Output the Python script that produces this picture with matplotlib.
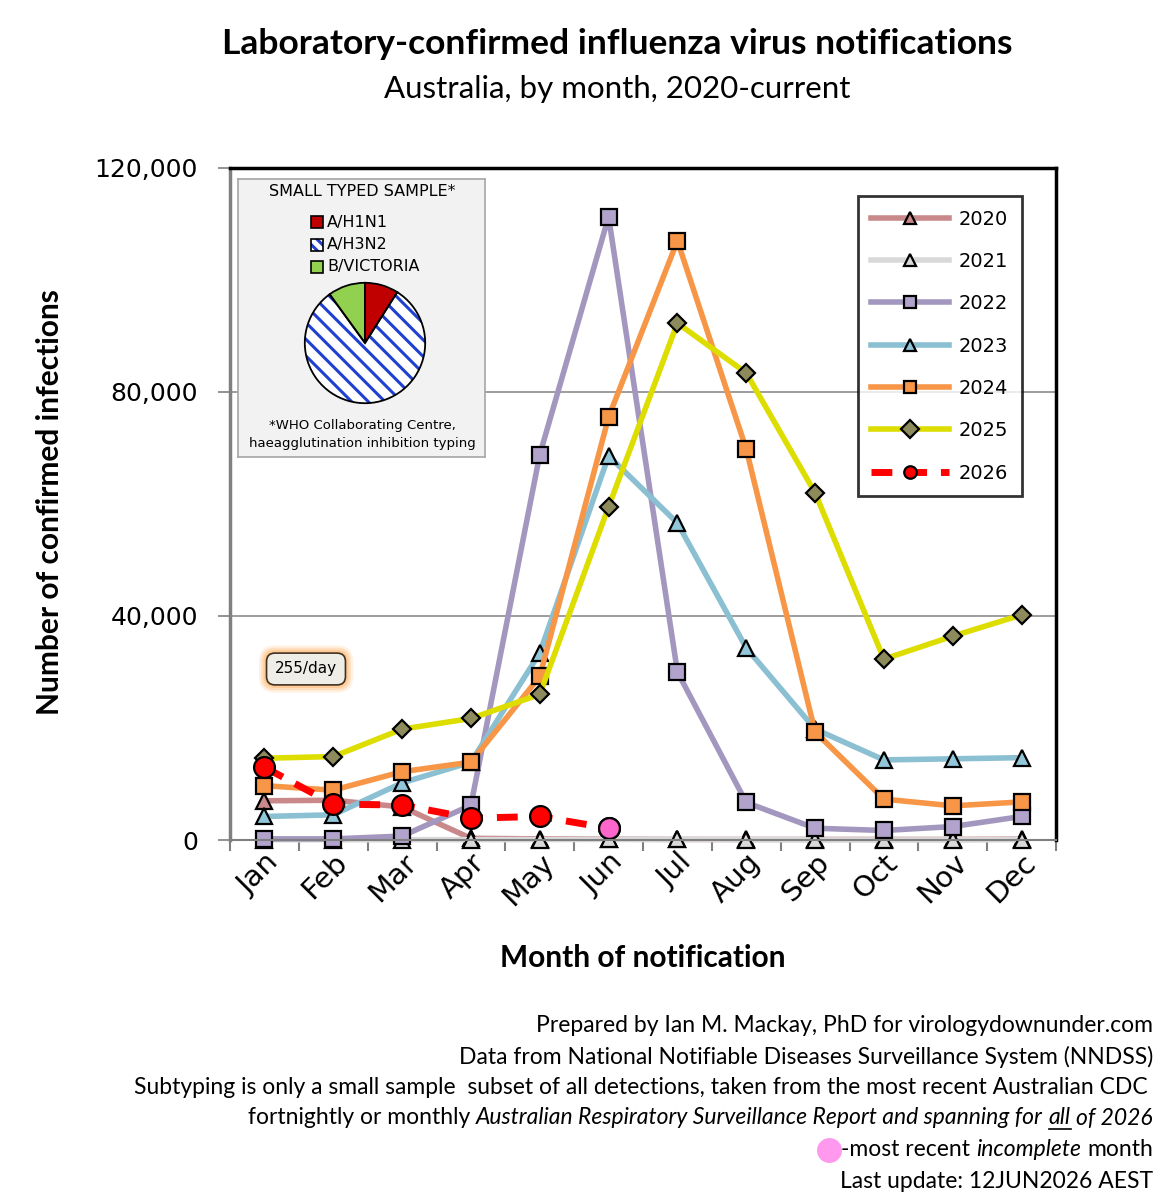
import numpy as np
import matplotlib
matplotlib.use("Agg")
import matplotlib.pyplot as plt
from matplotlib.patches import Rectangle
from matplotlib.lines import Line2D

# data
months = ["Jan", "Feb", "Mar", "Apr", "May", "Jun", "Jul", "Aug", "Sep", "Oct", "Nov", "Dec"]
y2020 = [7000, 7100, 5900, 300, 200, 150, 100, 100, 100, 100, 100, 150]
y2021 = [50, 40, 50, 60, 80, 100, 100, 60, 30, 20, 30, 50]
y2022 = [200, 200, 700, 6200, 68800, 111300, 30000, 6700, 2100, 1700, 2400, 4200]
y2023 = [4200, 4500, 10200, 13900, 33400, 68600, 56600, 34300, 19800, 14300, 14500, 14700]
y2024 = [9700, 8900, 12200, 13900, 29200, 75500, 107000, 69800, 19300, 7300, 6100, 6800]
y2025 = [14600, 14900, 19800, 21700, 26000, 59500, 92300, 83400, 62000, 32300, 36400, 40200]
y2026 = [13000, 6400, 6250, 3900, 4200, 2100]

subtypes = ["A/H1N1", "A/H3N2", "B/VICTORIA"]
subtype_share = [9, 81, 10]

footer = [
    "Prepared by Ian M. Mackay, PhD for virologydownunder.com",
    "Data from National Notifiable Diseases Surveillance System (NNDSS)",
    "Subtyping is only a small sample  subset of all detections, taken from the most recent Australian CDC ",
]

W, H = 1165, 1200
fig = plt.figure(figsize=(W / 100, H / 100), dpi=100)


def fx(px):
    return px / W


def fy(py):
    return 1 - py / H


SANS = "Lato"
FOOT = 16.5
HATCH_BLUE = "#2040d0"
plt.rcParams["hatch.linewidth"] = 2.2

fig.text(fx(617), fy(44), "Laboratory-confirmed influenza virus notifications",
         ha="center", va="center", fontsize=25.5, fontweight="bold", family=SANS)
fig.text(fx(617), fy(89), "Australia, by month, 2020-current",
         ha="center", va="center", fontsize=22.5, family=SANS)

ax = fig.add_axes([fx(230), fy(840), (1056 - 230) / W, (840 - 168) / H])
ax.set_xlim(-0.5, 11.5)
ax.set_ylim(0, 120000)

x = np.arange(12)
mk = dict(markeredgecolor="black", markeredgewidth=1.6, clip_on=False)
ax.plot(x, y2020, color="#c9898b", lw=4, marker="^", ms=11, markerfacecolor="#c9898b", label="2020", **mk)
ax.plot(x, y2021, color="#d9d9d9", lw=4, marker="^", ms=11, markerfacecolor="#d9d9d9", label="2021", **mk)
ax.plot(x, y2022, color="#a497bf", lw=4, marker="s", ms=12, markerfacecolor="#b1a3cc", label="2022", **mk)
ax.plot(x, y2023, color="#8bbfd2", lw=4, marker="^", ms=11, markerfacecolor="#92c6d9", label="2023", **mk)
ax.plot(x, y2024, color="#f79646", lw=4, marker="s", ms=12, markerfacecolor="#f79646", label="2024", **mk)
ax.plot(x, y2025, color="#dddd00", lw=4, marker="D", ms=9, markerfacecolor="#8d8a5c", label="2025", **mk)
ax.plot(x[:len(y2026)], y2026, color="#ff0000", lw=5, ls=(0, (3, 2)), marker="o", ms=15,
        markerfacecolor="#ff0000", label="2026", **mk)
# latest (incomplete) month drawn pink
ax.plot(x[len(y2026) - 1], y2026[-1], ls="none", marker="o", ms=15, markerfacecolor="#ff66cc", **mk)

for yv in [40000, 80000]:
    ax.axhline(yv, color="#8c8c8c", lw=1.2, zorder=0)

for s in ["top", "right"]:
    ax.spines[s].set_color("black")
    ax.spines[s].set_linewidth(2.5)
ax.spines["left"].set_color("#808080")
ax.spines["left"].set_linewidth(2.5)
ax.spines["bottom"].set_color("#7f7f7f")
ax.spines["bottom"].set_linewidth(1.5)

ax.set_yticks([0, 40000, 80000, 120000])
ax.set_yticklabels(["0", "40,000", "80,000", "120,000"], fontsize=18, family="DejaVu Sans")
ax.tick_params(axis="y", length=9, width=1.2, color="#808080", pad=14)
ax.set_xticks(x)
ax.set_xticklabels(months, fontsize=21, family="DejaVu Sans", rotation=45, ha="right",
                   rotation_mode="anchor")
ax.tick_params(axis="x", which="major", length=0, pad=6)
ax.set_xticks(np.arange(-0.5, 12, 1), minor=True)
ax.tick_params(axis="x", which="minor", length=8, width=1.5, color="#808080")

fig.text(fx(643), fy(958), "Month of notification", ha="center", va="center",
         fontsize=21.5, fontweight="bold", family=SANS)
fig.text(fx(50), fy(502), "Number of confirmed infections", ha="center", va="center",
         rotation=90, fontsize=21.5, fontweight="bold", family=SANS)

leg = ax.legend(loc="upper right", bbox_to_anchor=(fx(1022), fy(196)), bbox_transform=fig.transFigure,
                fontsize=14, handlelength=4.0, labelspacing=1.2, borderpad=0.7,
                fancybox=False, frameon=True, handletextpad=0.5, borderaxespad=0)
leg.get_frame().set_edgecolor("black")
leg.get_frame().set_linewidth(2)
for h in leg.legend_handles:
    h.set_markersize(9)

# rate box with soft orange glow
for pad, a in [(1.05, 0.18), (0.9, 0.28), (0.75, 0.4)]:
    fig.text(fx(306), fy(669), "255/day", fontsize=11, ha="center", va="center", family="DejaVu Sans",
             color="none", bbox=dict(boxstyle="round,pad=%.2f" % pad, fc="#ffb060", ec="none", alpha=a))
fig.text(fx(306), fy(669), "255/day", fontsize=11, ha="center", va="center", family="DejaVu Sans",
         bbox=dict(boxstyle="round,pad=0.55", fc="#eeeee6", ec="#403020", lw=1.2))

# subtype inset panel
panel = fig.add_axes([fx(238), fy(457), (485 - 238) / W, (457 - 179) / H])
panel.set_facecolor("#f2f2f2")
panel.set_xticks([])
panel.set_yticks([])
for s in panel.spines.values():
    s.set_color("#a6a6a6")
    s.set_linewidth(1.2)
panel.set_xlim(238, 485)
panel.set_ylim(457, 179)
panel.text(362, 191, "SMALL TYPED SAMPLE*", ha="center", va="center", fontsize=11.5, family="DejaVu Sans")
sw_colors = ["#c00000", "white", "#92d050"]
for i, (lab, c) in enumerate(zip(subtypes, sw_colors)):
    yy = 222 + i * 22.5
    if i == 1:
        panel.add_patch(Rectangle((311, yy - 6), 12, 12, fc="white", ec=HATCH_BLUE, lw=0, hatch="\\\\\\"))
    panel.add_patch(Rectangle((311, yy - 6), 12, 12, fc=c if i != 1 else "none", ec="black", lw=1.2))
    panel.text(327, yy, lab, ha="left", va="center", fontsize=11.5, family="DejaVu Sans")
panel.text(362, 425, "*WHO Collaborating Centre,", ha="center", va="center", fontsize=9.5, family="DejaVu Sans")
panel.text(362, 443, "haeagglutination inhibition typing", ha="center", va="center", fontsize=9.5,
           family="DejaVu Sans")

pie_ax = fig.add_axes([fx(303), fy(405), 124 / W, 124 / H])
wedges, _ = pie_ax.pie(subtype_share, colors=sw_colors, startangle=90, counterclock=False,
                       wedgeprops=dict(lw=0))
wedges[1].set_hatch("\\\\")
wedges[1].set_edgecolor(HATCH_BLUE)
# black outlines on top
outl, _ = pie_ax.pie(subtype_share, colors=["none"] * 3, startangle=90, counterclock=False,
                     wedgeprops=dict(lw=1.3, edgecolor="black", fill=False))
pie_ax.set_xlim(-1.03, 1.03)
pie_ax.set_ylim(-1.03, 1.03)
pie_ax.set_aspect("equal")
pie_ax.axis("off")

# footer
for i, line in enumerate(footer):
    fig.text(fx(1153), fy(1026 + i * 31), line, ha="right", va="center", fontsize=FOOT, family=SANS)

renderer = fig.canvas.get_renderer()


def text_w(s, style="normal"):
    t = fig.text(0, 0, s, fontsize=FOOT, family=SANS, style=style)
    w = t.get_window_extent(renderer).width
    t.remove()
    return w


SPACE = text_w("a a") - text_w("aa")


def right_line(pieces, x_right, y_px):
    # pieces: (text, style, underline, space_before)
    xr = x_right
    for txt, style, under, gap in reversed(pieces):
        t = fig.text(fx(xr), fy(y_px), txt, ha="right", va="center", fontsize=FOOT, family=SANS, style=style)
        bb = t.get_window_extent(renderer)
        if under:
            fig.add_artist(Line2D([bb.x0 / W, bb.x1 / W], [fy(y_px + 11)] * 2, color="black", lw=1.2,
                                  transform=fig.transFigure))
        xr = xr - bb.width - (SPACE if gap else 0)
    return xr


right_line([("fortnightly or monthly", "normal", False, False),
            ("Australian Respiratory Surveillance Report and spanning for", "italic", False, True),
            ("all", "italic", True, True),
            ("of 2026", "italic", False, True)], 1153, 1118)
xl = right_line([("-most recent", "normal", False, False),
                 ("incomplete", "italic", False, True),
                 ("month", "normal", False, True)], 1153, 1150)
fig.add_artist(Line2D([fx(xl - 12)], [fy(1150)], marker="o", ms=18, color="#ff99ee", mec="none",
                      transform=fig.transFigure))
fig.text(fx(1153), fy(1181), "Last update: 12JUN2026 AEST", ha="right", va="center", fontsize=FOOT, family=SANS)

fig.savefig("out.png", dpi=100)
